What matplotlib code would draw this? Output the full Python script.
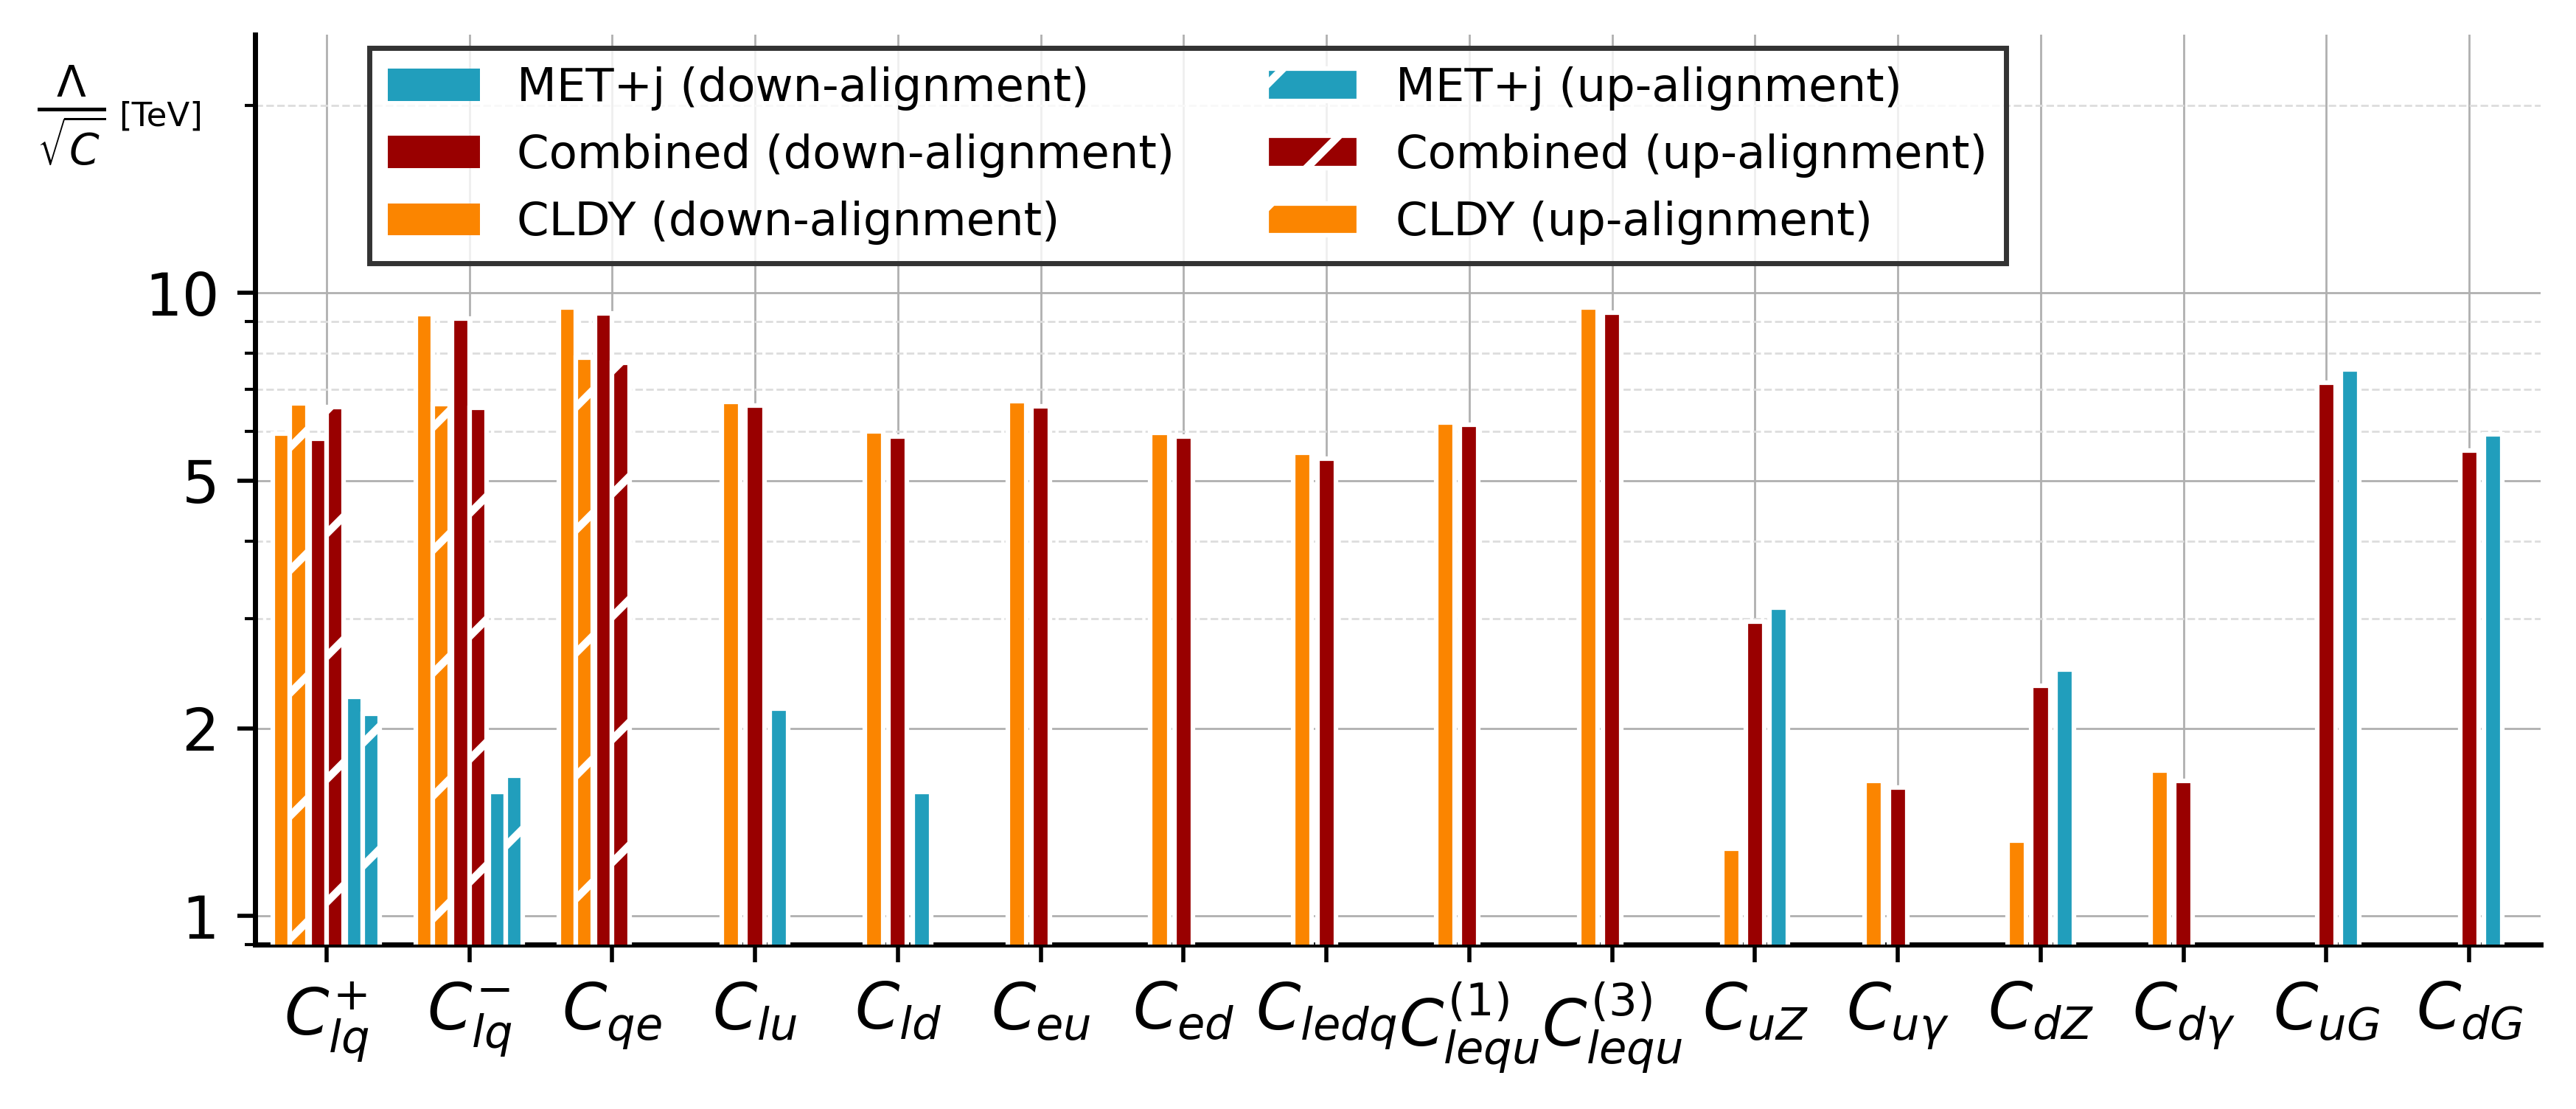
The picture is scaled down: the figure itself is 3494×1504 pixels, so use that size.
import numpy as np
import matplotlib
matplotlib.use("Agg")
import matplotlib.pyplot as plt
from matplotlib.patches import Patch
from matplotlib.ticker import FixedLocator, FixedFormatter, LogLocator, NullFormatter

plt.rcParams['hatch.linewidth'] = 1.5

# Данные (значения Lambda/sqrt(C) в TeV, NaN = нет столбца)
operators = [r'$C_{lq}^{+}$', r'$C_{lq}^{-}$', r'$C_{qe}$', r'$C_{lu}$', r'$C_{ld}$',
             r'$C_{eu}$', r'$C_{ed}$', r'$C_{ledq}$', r'$C_{lequ}^{(1)}$',
             r'$C_{lequ}^{(3)}$', r'$C_{uZ}$', r'$C_{u\gamma}$', r'$C_{dZ}$',
             r'$C_{d\gamma}$', r'$C_{uG}$', r'$C_{dG}$']
nan = np.nan
cldy_down = [5.95, 9.25, 9.48, 6.69, 6.00, 6.71, 5.97, 5.55, 6.20, 9.48,
             1.283, 1.65, 1.32, 1.71, nan, nan]
comb_down = [5.83, 9.11, 9.27, 6.60, 5.88, 6.59, 5.88, 5.42, 6.15, 9.30,
             2.97, 1.61, 2.34, 1.65, 7.19, 5.59]
metj_down = [2.25, 1.58, nan, 2.15, 1.58, nan, nan, nan, nan, nan,
             3.13, nan, 2.49, nan, 7.54, 5.93]
# up-alignment есть только у первых трёх операторов
cldy_up = [6.65, 6.63, 7.87]
comb_up = [6.56, 6.55, 7.73]
metj_up = [2.11, 1.68, nan]

c_metj = '#219EBC'
c_comb = '#990000'
c_cldy = '#FB8500'

fig = plt.figure(figsize=(6.988, 3.008), dpi=500)
ax = fig.add_axes([0.0990, 0.1483, 0.8873, 0.8205])

x = np.arange(len(operators))
n_up = len(cldy_up)

w6 = 0.12      # ширина столбца в группах с up/down
step6 = 0.255  # расстояние между парами
w3 = 0.13      # ширина в группах только с down
step3 = 1 / 6

bar_kw = dict(edgecolor='white', linewidth=0.9, zorder=3)


def draw(xs, vals, width, color, hatch=None):
    vals = np.asarray(vals, dtype=float)
    m = ~np.isnan(vals)
    ax.bar(np.asarray(xs)[m], vals[m], width=width, color=color, hatch=hatch, **bar_kw)


xa = x[:n_up]
xb = x[n_up:]
series = [(cldy_down, cldy_up, c_cldy, -1), (comb_down, comb_up, c_comb, 0),
          (metj_down, metj_up, c_metj, 1)]
for down, up, col, k in series:
    draw(xa + k * step6 - w6 / 2, down[:n_up], w6, col)
    draw(xa + k * step6 + w6 / 2, up, w6, col, hatch='/')
    draw(xb + k * step3, down[n_up:], w3, col)

ax.set_yscale('log')
ax.set_ylim(0.9, 26)
ax.set_xlim(-0.5, 15.5)
ax.yaxis.set_major_locator(FixedLocator([1, 2, 5, 10]))
ax.yaxis.set_major_formatter(FixedFormatter(['1', '2', '5', '10']))
ax.yaxis.set_minor_locator(LogLocator(base=10, subs=np.arange(2, 10), numticks=20))
ax.yaxis.set_minor_formatter(NullFormatter())
ax.tick_params(axis='y', labelsize=11.5)
ax.set_xticks(x)
ax.set_xticklabels(operators, fontsize=12.5)

ax.set_axisbelow(True)
ax.grid(True, which='major', color='#b0b0b0', linewidth=0.4)
ax.grid(True, which='minor', axis='y', color='#dddddd', linestyle='--', linewidth=0.4)
ax.spines['top'].set_visible(False)
ax.spines['right'].set_visible(False)
for s in ('left', 'bottom'):
    ax.spines[s].set_linewidth(1.0)

# Подпись оси Y
fig.text(0.0278, 0.896, r'$\frac{\Lambda}{\sqrt{C}}$', fontsize=12, ha='center', va='center')
fig.text(0.0461, 0.8946, '[TeV]', fontsize=6.5, ha='left', va='center')

handles = [
    Patch(facecolor=c_metj, label='MET+j (down-alignment)'),
    Patch(facecolor=c_comb, label='Combined (down-alignment)'),
    Patch(facecolor=c_cldy, label='CLDY (down-alignment)'),
    Patch(facecolor=c_metj, edgecolor='white', hatch='/', linewidth=0.9, label='MET+j (up-alignment)'),
    Patch(facecolor=c_comb, edgecolor='white', hatch='/', linewidth=0.9, label='Combined (up-alignment)'),
    Patch(facecolor=c_cldy, edgecolor='white', hatch='/', linewidth=0.9, label='CLDY (up-alignment)'),
]
leg = ax.legend(handles=handles, ncol=2, loc='upper left', bbox_to_anchor=(0.05, 0.9854),
                borderaxespad=0, fontsize=9, fancybox=False, labelspacing=0.5,
                borderpad=0.4)
frame = leg.get_frame()
frame.set_alpha(None)
frame.set_facecolor((1, 1, 1, 0.8))
frame.set_edgecolor('#333333')
frame.set_linewidth(1.0)

fig.savefig('out.png', dpi=500)
